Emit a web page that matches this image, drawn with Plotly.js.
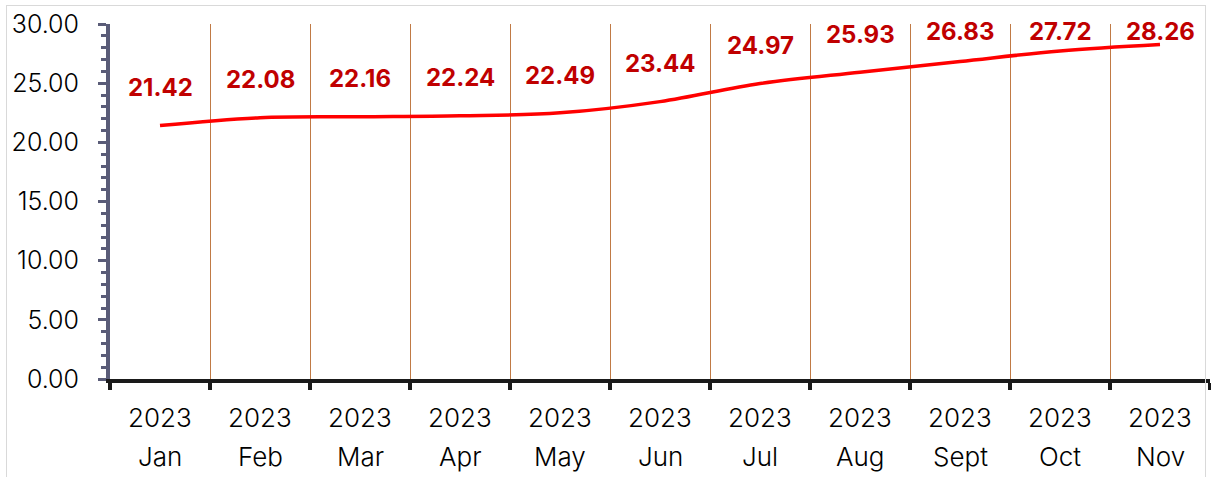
<!DOCTYPE html>
<html>
<head>
<meta charset="utf-8">
<script src="https://cdn.plot.ly/plotly-3.0.1.min.js"></script>
<style>
html,body{margin:0;padding:0;background:#fff;}
#wrap{position:relative;width:1211px;height:477px;overflow:hidden;}
#chart{position:absolute;left:0;top:0;width:1211px;height:477px;}
#frame{position:absolute;left:6px;top:5px;width:1198px;height:480px;border:1px solid #d9d9d9;pointer-events:none;}
</style>
</head>
<body>
<div id="wrap"><div id="chart"></div><div id="frame"></div></div>
<script>
const months = ["Jan","Feb","Mar","Apr","May","Jun","Jul","Aug","Sept","Oct","Nov"];
const years = ["2023","2023","2023","2023","2023","2023","2023","2023","2023","2023","2023"];
const values = [21.42,22.08,22.16,22.24,22.49,23.44,24.97,25.93,26.83,27.72,28.26];

const FONT = "Inter, 'Open Sans', sans-serif";
const annotations = [];
months.forEach((m, i) => {
  annotations.push({
    x: m, y: Math.min(values[i] + 3.2, 29.4), xref: 'x', yref: 'y',
    text: values[i].toFixed(2), showarrow: false, yanchor: 'middle',
    font: {family: FONT, size: 24, color: '#c00000', weight: 'bold'}
  });
  annotations.push({
    x: m, y: 0, xref: 'x', yref: 'paper', yshift: -38,
    text: years[i], showarrow: false, yanchor: 'middle',
    font: {family: FONT, size: 26, color: '#000', weight: 300}
  });
  annotations.push({
    x: m, y: 0, xref: 'x', yref: 'paper', yshift: -77,
    text: m, showarrow: false, yanchor: 'middle',
    font: {family: FONT, size: 26, color: '#000', weight: 300}
  });
});

const trace = {
  x: months, y: values, type: 'scatter', mode: 'lines',
  line: {color: '#ff0000', width: 3.5, shape: 'spline', smoothing: 1},
  hoverinfo: 'skip'
};

const layout = {
  width: 1211, height: 477,
  margin: {l: 110, r: 1, t: 24, b: 98},
  paper_bgcolor: 'rgba(0,0,0,0)', plot_bgcolor: 'rgba(0,0,0,0)',
  showlegend: false,
  font: {family: FONT, size: 22, color: '#000'},
  xaxis: {
    type: 'category', tickson: 'boundaries', range: [-0.5, 10.5],
    showgrid: true, gridcolor: '#c07a45', gridwidth: 1,
    showline: true, linecolor: '#1a1a1a', linewidth: 4,
    ticks: 'outside', ticklen: 7, tickwidth: 4, tickcolor: '#1a1a1a',
    showticklabels: false, zeroline: false, fixedrange: true
  },
  yaxis: {
    range: [0, 30], dtick: 5, tickformat: '.2f',
    showgrid: false, zeroline: false,
    showline: true, linecolor: '#5a5c78', linewidth: 4,
    ticks: 'outside', ticklen: 8, tickwidth: 3, tickcolor: '#5a5c78',
    minor: {dtick: 1, ticks: 'outside', ticklen: 5, tickwidth: 3, tickcolor: '#5a5c78', showgrid: false},
    ticklabelstandoff: 14,
    tickfont: {family: FONT, size: 25, color: '#000', weight: 300},
    fixedrange: true
  },
  annotations: annotations
};

Plotly.newPlot('chart', [trace], layout, {displayModeBar: false, staticPlot: true});
</script>
</body>
</html>
